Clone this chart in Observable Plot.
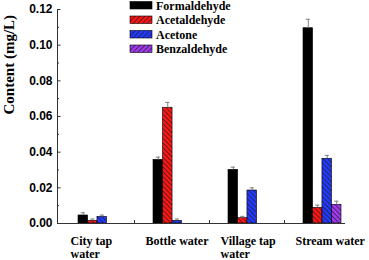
<!DOCTYPE html>
<html>
<head>
<meta charset="utf-8">
<script src="https://cdn.jsdelivr.net/npm/d3@7"></script>
<script src="https://cdn.jsdelivr.net/npm/@observablehq/plot@0.6"></script>
<style>
  html, body { margin: 0; padding: 0; background: white; }
</style>
</head>
<body>
<div id="chart"></div>
<script>
// ---- data ----
const categories = ["City tap water", "Bottle water", "Village tap water", "Stream water"];
const categoryLabels = ["City tap\nwater", "Bottle water", "Village tap\nwater", "Stream water"];
const series = ["Formaldehyde", "Acetaldehyde", "Acetone", "Benzaldehyde"];
const formaldehyde    = [0.0045, 0.0357, 0.0301, 0.1095];
const formaldehydeErr = [0.0015, 0.0015, 0.0015, 0.0050];
const acetaldehyde    = [0.0015, 0.0649, 0.0030, 0.0088];
const acetaldehydeErr = [0.0010, 0.0030, 0.0010, 0.0015];
const acetone         = [0.0037, 0.0015, 0.0185, 0.0363];
const acetoneErr      = [0.0010, 0.0010, 0.0015, 0.0019];
const benzaldehyde    = [0, 0, 0, 0.0105];
const benzaldehydeErr = [0, 0, 0, 0.0020];
const yTicks = [0, 0.02, 0.04, 0.06, 0.08, 0.10, 0.12];
const yMinorTicks = [0.01, 0.03, 0.05, 0.07, 0.09, 0.11];

const values = [formaldehyde, acetaldehyde, acetone, benzaldehyde];
const errors = [formaldehydeErr, acetaldehydeErr, acetoneErr, benzaldehydeErr];
const colors = ["#000000", "#ff1414", "#2238ff", "#a238f0"];
const fills = ["#000000", "url(#hatch-1)", "url(#hatch-2)", "url(#hatch-3)"];

const rows = [];
series.forEach((s, j) => categories.forEach((c, i) => {
  if (values[j][i] > 0) rows.push({series: s, j, cat: c, val: values[j][i], err: errors[j][i]});
}));
const labelMap = new Map(categories.map((c, i) => [c, categoryLabels[i]]));

const W = 9.47; // width of one bar inside a group band
const serif = "'Liberation Serif', 'Times New Roman', serif";
const sans = "'Liberation Sans', Arial, sans-serif";

const marks = [];
series.forEach((s, j) => {
  const d = rows.filter(r => r.j === j);
  marks.push(Plot.barY(d, {x: "cat", y: "val", fill: fills[j], stroke: "#000", strokeWidth: 0.6,
    insetLeft: j * W, insetRight: (3 - j) * W}));
  const off = (j - 1.5) * W;
  marks.push(Plot.ruleX(d, {x: "cat", y1: "val", y2: d => d.val + d.err, dx: off, stroke: "#808080", strokeWidth: 1}));
  marks.push(Plot.tickY(d, {x: "cat", y: d => d.val + d.err, stroke: "#808080", strokeWidth: 1,
    insetLeft: j * W + 2.7, insetRight: (3 - j) * W + 2.7}));
});

const plot = Plot.plot({
  width: 369, height: 260,
  marginLeft: 57, marginRight: 24, marginTop: 9, marginBottom: 37,
  style: {background: "white", overflow: "visible", fontFamily: serif},
  x: {domain: categories, paddingInner: 0.5, paddingOuter: 0.15, align: 0.82},
  y: {domain: [0, 0.12]},
  marks: [
    ...marks,
    Plot.ruleY([0], {stroke: "#333", strokeWidth: 1}),
    Plot.frame({anchor: "left", stroke: "#333", strokeWidth: 1}),
    Plot.axisY({ticks: yTicks, tickFormat: d3.format(".2f"), tickSize: -3.5, tickPadding: 8.5,
      fontSize: 12, fontWeight: "bold", label: null, stroke: "#333"}),
    Plot.axisY({ticks: yMinorTicks, tickFormat: null, text: null, tickSize: -2, label: null, stroke: "#333"}),
    Plot.axisX({tickSize: 0, tickPadding: 12, tickFormat: d => labelMap.get(d), textAnchor: "start", dx: -27,
      fontSize: 12, fontWeight: "bold", lineHeight: 1.1, label: null}),
    Plot.text(["Content (mg/L)"], {frameAnchor: "left", dx: -48, dy: -2, rotate: -90,
      fontSize: 15, fontWeight: "bold", fill: "black"})
  ]
});

const svg = d3.select(plot);
// sans-serif bold for y tick labels
svg.selectAll("text").filter(function() { return /^0\.\d\d$/.test(this.textContent); })
  .style("font-family", sans);

// hatch patterns
const defs = svg.insert("defs", ":first-child");
function addPattern(id, color, angle) {
  const p = defs.append("pattern").attr("id", id).attr("patternUnits", "userSpaceOnUse")
    .attr("width", 3.4).attr("height", 3.4).attr("patternTransform", `rotate(${angle})`);
  p.append("rect").attr("width", 3.4).attr("height", 3.4).attr("fill", color);
  p.append("line").attr("x1", 0.5).attr("y1", 0).attr("x2", 0.5).attr("y2", 3.4)
    .attr("stroke", "#202020").attr("stroke-width", 0.7);
}
[1, 2, 3].forEach(j => { addPattern(`hatch-${j}`, colors[j], -45); addPattern(`leg-${j}`, colors[j], 45); });

// minor x ticks between groups
const xs = plot.scale("x");
const bw = xs.bandwidth;
const ys = plot.scale("y");
const y0 = ys.apply(0);
for (let i = 0; i < categories.length - 1; i++) {
  const mx = (xs.apply(categories[i]) + bw / 2 + xs.apply(categories[i + 1]) + bw / 2) / 2;
  svg.append("line").attr("x1", mx).attr("x2", mx).attr("y1", y0).attr("y2", y0 - 3)
    .attr("stroke", "#333").attr("stroke-width", 1);
}

// legend
const lg = svg.append("g").attr("transform", "translate(130,1.5)");
series.forEach((s, j) => {
  const g = lg.append("g").attr("transform", `translate(0,${j * 14.5})`);
  g.append("rect").attr("width", 22).attr("height", 7.5)
    .attr("fill", j === 0 ? colors[0] : `url(#leg-${j})`).attr("stroke", "#000").attr("stroke-width", 0.6);
  g.append("text").attr("x", 26).attr("y", 3.9).attr("dy", "0.35em").attr("text-anchor", "start")
    .style("font-family", serif).attr("font-weight", "bold").attr("font-size", 12).text(s);
});

document.getElementById("chart").appendChild(plot);
</script>
</body>
</html>
